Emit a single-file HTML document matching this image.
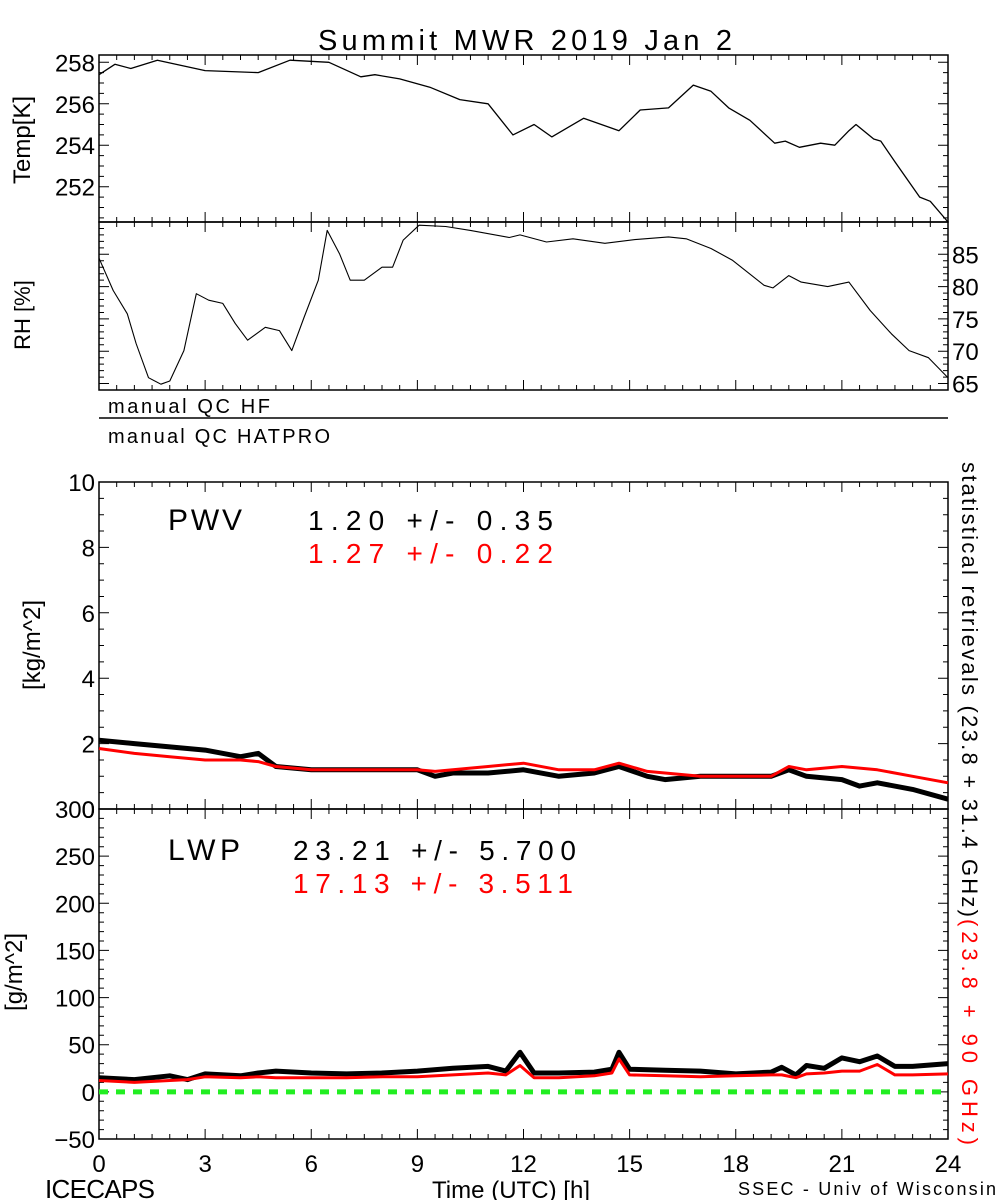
<!DOCTYPE html>
<html><head><meta charset="utf-8"><style>
html,body{margin:0;padding:0;background:#fff}
svg{display:block}
text{font-family:"Liberation Sans Narrow","Liberation Sans",sans-serif;fill:#000}
</style></head><body>
<svg id="chart" width="1000" height="1200" viewBox="0 0 1000 1200" xmlns="http://www.w3.org/2000/svg">
<text x="318" y="50" font-size="29" textLength="414" lengthAdjust="spacing">Summit MWR 2019 Jan  2</text>
<text transform="translate(30,140) rotate(-90)" font-size="24" text-anchor="middle">Temp[K]</text>
<text transform="translate(30,315) rotate(-90)" font-size="22" text-anchor="middle">RH [%]</text>
<text x="108" y="413" font-size="20" textLength="162" lengthAdjust="spacing">manual QC HF</text>
<line x1="99" y1="418" x2="948" y2="418" stroke="#000" stroke-width="1.5"/>
<text x="108" y="443" font-size="20" textLength="222" lengthAdjust="spacing">manual QC HATPRO</text>
<text transform="translate(40,645) rotate(-90)" font-size="24" text-anchor="middle">[kg/m^2]</text>
<text transform="translate(22,972) rotate(-90)" font-size="24" text-anchor="middle">[g/m^2]</text>
<text transform="translate(962,462) rotate(90)" font-size="22"><tspan textLength="455" lengthAdjust="spacing">statistical retrievals (23.8 + 31.4 GHz)</tspan><tspan x="0" dx="457" style="fill:#ff0000" textLength="226" lengthAdjust="spacing">(23.8 + 90 GHz)</tspan></text>
<text x="168" y="530" font-size="30" textLength="74" lengthAdjust="spacing">PWV</text>
<text x="308" y="530" font-size="28" textLength="245" lengthAdjust="spacing">1.20 +/-  0.35</text>
<text x="308" y="563" font-size="28" style="fill:#ff0000" textLength="245" lengthAdjust="spacing">1.27 +/-  0.22</text>
<text x="168" y="860" font-size="30" textLength="72" lengthAdjust="spacing">LWP</text>
<text x="293" y="860" font-size="28" textLength="283" lengthAdjust="spacing">23.21 +/-  5.700</text>
<text x="293" y="893" font-size="28" style="fill:#ff0000" textLength="280" lengthAdjust="spacing">17.13 +/-  3.511</text>
<text x="45" y="1198" font-size="26" textLength="110" lengthAdjust="spacing">ICECAPS</text>
<text x="432" y="1198" font-size="24" textLength="158" lengthAdjust="spacing">Time (UTC) [h]</text>
<text x="738" y="1195" font-size="18" textLength="258" lengthAdjust="spacing">SSEC - Univ of Wisconsin</text>
</svg>
<script>
const tempH=[0,0.45,0.9,1.65,3,4.5,5.4,6.5,7.4,7.8,8.5,9.35,10.2,11.0,11.7,12.3,12.8,13.7,14.7,15.3,16.1,16.8,17.3,17.8,18.4,19.1,19.4,19.8,20.4,20.8,21.2,21.4,21.9,22.1,22.5,23.2,23.5,24];
const tempV=[257.4,257.9,257.7,258.1,257.6,257.5,258.1,258.0,257.3,257.4,257.2,256.8,256.2,256.0,254.5,255.0,254.4,255.3,254.7,255.7,255.8,256.9,256.6,255.8,255.2,254.1,254.2,253.9,254.1,254.0,254.7,255.0,254.3,254.2,253.2,251.5,251.3,250.3];
const rhH=[0,0.4,0.8,1.05,1.4,1.75,2.0,2.4,2.75,3.1,3.5,3.85,4.2,4.7,5.1,5.45,5.8,6.2,6.45,6.8,7.1,7.5,8.0,8.3,8.6,9.05,9.8,10.5,11.6,11.9,12.65,13.4,14.3,15.2,16.1,16.6,17.3,17.9,18.8,19.05,19.5,19.85,20.6,21.2,21.8,22.4,22.9,23.45,24];
const rhV=[84.4,79.4,75.8,71.2,65.9,64.9,65.4,70.1,78.9,77.9,77.4,74.3,71.7,73.7,73.2,70.1,75.3,81,88.7,85.1,81,81,83,83,87.2,89.5,89.3,88.7,87.6,88,86.9,87.4,86.7,87.3,87.7,87.4,85.9,84.1,80.2,79.8,81.7,80.7,80,80.7,76.3,72.7,70.1,69,65.9];
const pwvH=[0,1,2,3,4,4.5,5,6,7,8,9,9.5,10,11,12,13,14,14.7,15.5,16,17,18,19,19.5,20,21,21.5,22,23,24];
const pwvBlack=[2.1,2.0,1.9,1.8,1.6,1.7,1.3,1.2,1.2,1.2,1.2,1.0,1.1,1.1,1.2,1.0,1.1,1.3,1.0,0.9,1.0,1.0,1.0,1.2,1.0,0.9,0.7,0.8,0.6,0.3];
const pwvRed=[1.85,1.7,1.6,1.5,1.5,1.45,1.3,1.2,1.2,1.2,1.2,1.15,1.2,1.3,1.4,1.2,1.2,1.4,1.15,1.1,1.0,1.0,1.0,1.3,1.2,1.3,1.25,1.2,1.0,0.8];
const lwpH=[0,1,2,2.5,3,4,4.5,5,6,7,8,9,10,11,11.5,11.9,12.3,13,14,14.5,14.7,15,16,17,18,19,19.3,19.7,20,20.5,21,21.5,22,22.5,23,24];
const lwpBlack=[15,13,17,13,19,17,20,22,20,19,20,22,25,27,22,42,20,20,21,24,42,24,23,22,19,21,26,18,28,25,36,32,38,27,27,30];
const lwpRed=[12,10,12,13,16,15,16,15,15,15,16,16,18,20,18,28,15,15,17,20,35,18,17,16,17,18,18,15,19,20,22,22,29,18,18,19];
const xTicks=[0,3,6,9,12,15,18,21,24];
const tempTicks=[252,254,256,258];
const rhTicks=[65,70,75,80,85];
const pwvTicks=[0,2,4,6,8,10];
const lwpTicks=[-50,0,50,100,150,200,250,300];

const svg=document.getElementById('chart');
const NS='http://www.w3.org/2000/svg';
const X0=99,X1=948;
const xs=h=>X0+(X1-X0)*h/24;
function mk(tag,attrs){const e=document.createElementNS(NS,tag);for(const k in attrs)e.setAttribute(k,attrs[k]);svg.appendChild(e);return e;}
function yScale(y0,y1,v0,v1){return v=>y1-(v-v0)/(v1-v0)*(y1-y0);}
const panels=[
 {name:'temp',y0:55,y1:222,v0:250.3,v1:258.35,ticks:tempTicks,minor:0.5,side:'left'},
 {name:'rh',y0:222,y1:390,v0:64,v1:90,ticks:rhTicks,minor:1,side:'right'},
 {name:'pwv',y0:482,y1:809,v0:0,v1:10,ticks:pwvTicks,minor:0.5,side:'left'},
 {name:'lwp',y0:809,y1:1139,v0:-50,v1:300,ticks:lwpTicks,minor:10,side:'left'}
];
panels.forEach(p=>{
 p.ys=yScale(p.y0,p.y1,p.v0,p.v1);
 const r=mk('rect',{x:X0,y:p.y0,width:X1-X0,height:p.y1-p.y0,fill:'none',stroke:'#000','stroke-width':1.5});
 
 
 for(let h=0;h<=24.001;h+=0.5){
  const major=Math.abs(h/3-Math.round(h/3))<1e-6;const L=major?10:5;
  const t=mk('path',{d:`M${xs(h)},${p.y1}v${-L}M${xs(h)},${p.y0}v${L}`,stroke:'#000','stroke-width':1});
  
  
 }
 const start=Math.ceil(p.v0/p.minor)*p.minor;
 for(let v=start;v<=p.v1+1e-6;v+=p.minor){
  const y=p.ys(v);const major=p.ticks.some(t=>Math.abs(t-v)<1e-6);const L=major?10:5;
  const t=mk('path',{d:`M${X0},${y}h${L}M${X1},${y}h${-L}`,stroke:'#000','stroke-width':1});
  
  
 }
 p.ticks.forEach(v=>{
  const tx=mk('text',{x:p.side==='left'?X0-4:X1+4,y:p.ys(v)+9,'font-size':24,'text-anchor':p.side==='left'?'end':'start'});
  tx.textContent=String(v).replace('-','\u2212');
  
  
 });
});
function line(H,V,p,color,w,name){
 const d=H.map((h,i)=>(i?'L':'M')+xs(h).toFixed(1)+','+p.ys(V[i]).toFixed(1)).join('');
 const e=mk('path',{d:d,fill:'none',stroke:color,'stroke-width':w,'stroke-linejoin':'round'});
 
 
}
line(tempH,tempV,panels[0],'#000',1.3,'temp-line');
line(rhH,rhV,panels[1],'#000',1.1,'rh-line');
line(pwvH,pwvBlack,panels[2],'#000',5,'pwv-black-series');
line(pwvH,pwvRed,panels[2],'#ff0000',3,'pwv-red-series');
line(lwpH,lwpBlack,panels[3],'#000',5,'lwp-black-series');
line(lwpH,lwpRed,panels[3],'#ff0000',3,'lwp-red-series');
const z=mk('line',{x1:X0,x2:X1,y1:panels[3].ys(0),y2:panels[3].ys(0),stroke:'#22ee22','stroke-width':5,'stroke-dasharray':'9,8'});


xTicks.forEach(h=>{
 const t=mk('text',{x:xs(h),y:1172,'font-size':24,'text-anchor':'middle'});
 t.textContent=h;
 
 
});
</script>
</body></html>
